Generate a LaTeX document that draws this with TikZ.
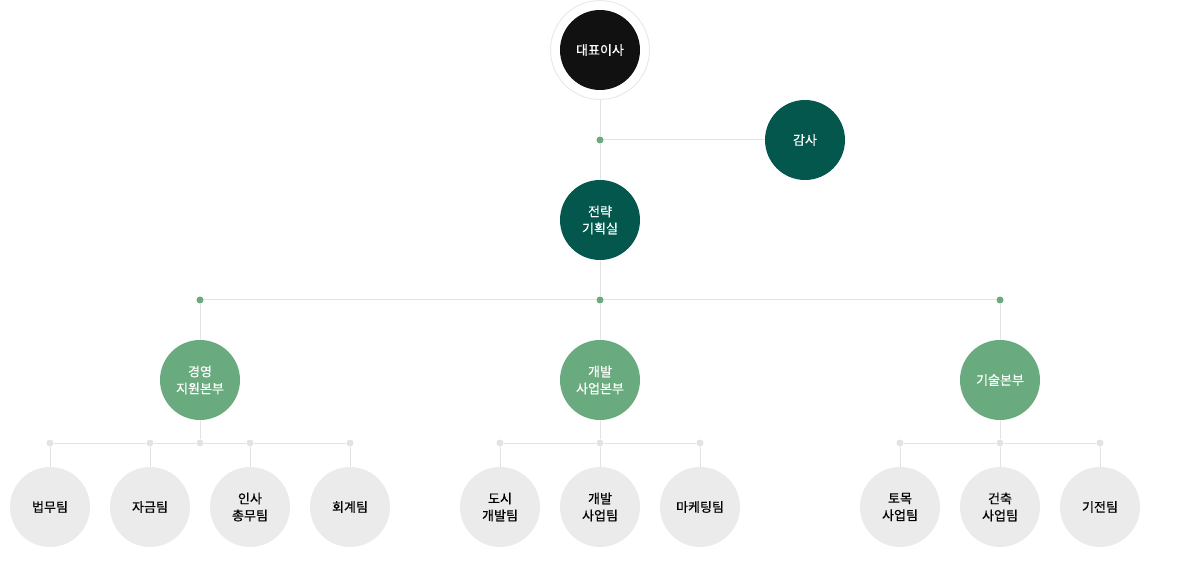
\documentclass[tikz,border=0pt]{standalone}
\usepackage{fontspec}
\setmainfont{Noto Sans CJK KR}
\definecolor{ceo}{HTML}{111111}
\definecolor{teal}{HTML}{03574D}
\definecolor{divg}{HTML}{6AAA7F}
\definecolor{teamg}{HTML}{EBEBEB}
\definecolor{linec}{HTML}{E3E3E3}
\definecolor{ringc}{HTML}{EAEAEA}
\begin{document}
\begin{tikzpicture}[x=1pt,y=-1pt,
  circ/.style={circle,minimum size=80pt,inner sep=0pt,align=center,font=\fontsize{13}{17}\selectfont\addfontfeature{FakeBold=0.6}},
  topc/.style={circ,fill=ceo,text=white},
  tealc/.style={circ,fill=teal,text=white},
  divc/.style={circ,fill=divg,text=white},
  teamc/.style={circ,fill=teamg,text=black},
  gdot/.style={circle,fill=divg,minimum size=7pt,inner sep=0pt},
  ldot/.style={circle,fill=linec,minimum size=7pt,inner sep=0pt},
  conn/.style={draw=linec,line width=1pt}]
\useasboundingbox (0,0) rectangle (1200,561);
% nodes
\node[circle,draw=ringc,fill=white,line width=1pt,minimum size=99pt,inner sep=0pt] (ring) at (600,50) {};
\node[topc] (ceo) at (600,50) {대표이사};
\node[gdot] (d1) at (600,140) {};
\node[tealc] (audit) at (805,140) {감사};
\node[tealc] (plan) at (600,220) {전략\\기획실};
\node[gdot] (d2l) at (200,300) {};
\node[gdot] (d2m) at (600,300) {};
\node[gdot] (d2r) at (1000,300) {};
\node[divc] (div1) at (200,380) {경영\\지원본부};
\node[divc] (div2) at (600,380) {개발\\사업본부};
\node[divc] (div3) at (1000,380) {기술본부};
% team dots
\node[ldot] (t1) at (50,443) {};
\node[ldot] (t2) at (150,443) {};
\node[ldot] (c1) at (200,443) {};
\node[ldot] (t3) at (250,443) {};
\node[ldot] (t4) at (350,443) {};
\node[ldot] (t5) at (500,443) {};
\node[ldot] (c2) at (600,443) {};
\node[ldot] (t6) at (700,443) {};
\node[ldot] (t7) at (900,443) {};
\node[ldot] (c3) at (1000,443) {};
\node[ldot] (t8) at (1100,443) {};
% teams
\node[teamc] (a1) at (50,507) {법무팀};
\node[teamc] (a2) at (150,507) {자금팀};
\node[teamc] (a3) at (250,507) {인사\\총무팀};
\node[teamc] (a4) at (350,507) {회계팀};
\node[teamc] (b1) at (500,507) {도시\\개발팀};
\node[teamc] (b2) at (600,507) {개발\\사업팀};
\node[teamc] (b3) at (700,507) {마케팅팀};
\node[teamc] (e1) at (900,507) {토목\\사업팀};
\node[teamc] (e2) at (1000,507) {건축\\사업팀};
\node[teamc] (e3) at (1100,507) {기전팀};
% connectors
\path[conn] (ring) -- (d1) -- (plan);
\path[conn] (d1) -- (audit);
\path[conn] (plan) -- (d2m);
\path[conn] (d2l) -- (d2m) -- (d2r);
\path[conn] (d2l) -- (div1);
\path[conn] (d2m) -- (div2);
\path[conn] (d2r) -- (div3);
\path[conn] (div1) -- (c1);
\path[conn] (div2) -- (c2);
\path[conn] (div3) -- (c3);
\path[conn] (t1) -- (t2) -- (c1) -- (t3) -- (t4);
\path[conn] (t5) -- (c2) -- (t6);
\path[conn] (t7) -- (c3) -- (t8);
\path[conn] (t1) -- (a1);
\path[conn] (t2) -- (a2);
\path[conn] (t3) -- (a3);
\path[conn] (t4) -- (a4);
\path[conn] (t5) -- (b1);
\path[conn] (c2) -- (b2);
\path[conn] (t6) -- (b3);
\path[conn] (t7) -- (e1);
\path[conn] (c3) -- (e2);
\path[conn] (t8) -- (e3);
\end{tikzpicture}
\end{document}
